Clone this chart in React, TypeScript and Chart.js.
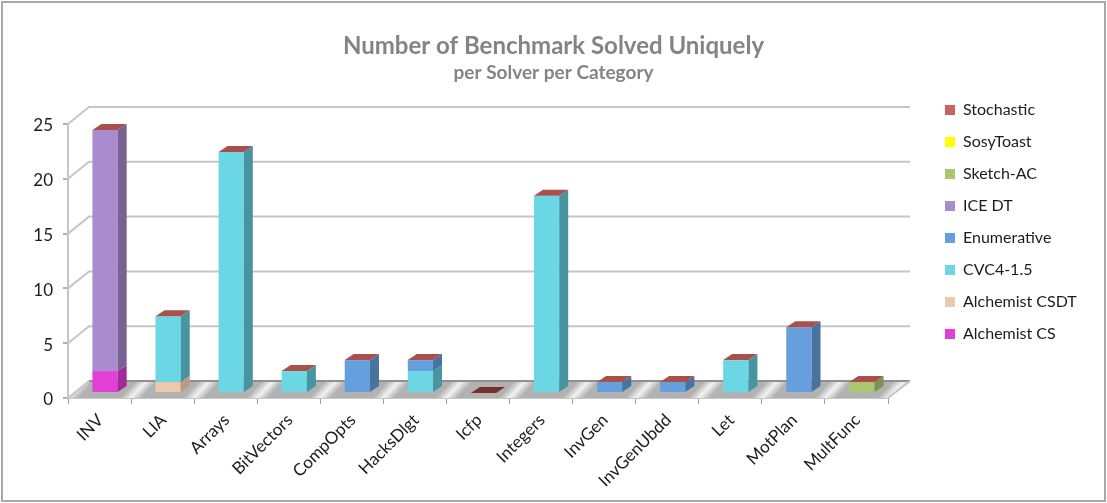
import React, { useEffect, useRef } from "react";
import { Chart, registerables } from "chart.js";

Chart.register(...registerables);

const categories = ["INV", "LIA", "Arrays", "BitVectors", "CompOpts", "HacksDlgt", "Icfp", "Integers", "InvGen", "InvGenUbdd", "Let", "MotPlan", "MultFunc"];
const alchemistCS = [2, 0, 0, 0, 0, 0, 0, 0, 0, 0, 0, 0, 0];
const alchemistCSDT = [0, 1, 0, 0, 0, 0, 0, 0, 0, 0, 0, 0, 0];
const cvc4 = [0, 6, 22, 2, 0, 2, 0, 18, 0, 0, 3, 0, 0];
const enumerative = [0, 0, 0, 0, 3, 1, 0, 0, 1, 1, 0, 6, 0];
const iceDT = [22, 0, 0, 0, 0, 0, 0, 0, 0, 0, 0, 0, 0];
const sketchAC = [0, 0, 0, 0, 0, 0, 0, 0, 0, 0, 0, 0, 1];
const sosyToast = [0, 0, 0, 0, 0, 0, 0, 0, 0, 0, 0, 0, 0];
const stochastic = [0, 0, 0, 0, 0, 0, 0, 0, 0, 0, 0, 0, 0];

const FONT = "Lato, Carlito, sans-serif";
const W = 1107, H = 503;
const PLOT_LEFT = 68, PLOT_RIGHT = 888, PLOT_BOTTOM = 398;
const WALL_DX = 21, WALL_DY = 17;
const BAR_DX = 5.5, BAR_DY = 5, SIDE_DX = 9, SIDE_DY = 6;

const seriesDefs = [
  { label: "Alchemist CS", data: alchemistCS, color: "#e23fd9", side: "#a32a9c" },
  { label: "Alchemist CSDT", data: alchemistCSDT, color: "#ecc9ae", side: "#b99b80" },
  { label: "CVC4-1.5", data: cvc4, color: "#6bd6e4", side: "#4895a1" },
  { label: "Enumerative", data: enumerative, color: "#669fdd", side: "#48739f" },
  { label: "ICE DT", data: iceDT, color: "#a98ccd", side: "#7a6193" },
  { label: "Sketch-AC", data: sketchAC, color: "#aac76f", side: "#7a934f" },
  { label: "SosyToast", data: sosyToast, color: "#ffff00", side: "#b5b500" },
  { label: "Stochastic", data: stochastic, color: "#cc625e", side: "#a9504c" },
];

const scene = {
  id: "scene",
  beforeLayout(chart: any) {
    const l = chart.legend;
    if (l && !l.__patched) {
      const fit = l.fit;
      l.fit = function () { fit.call(this); this.width = W - PLOT_RIGHT; };
      l.__patched = true;
    }
  },
  afterLayout(chart: any) {
    const l = chart.legend;
    if (!l) return;
    l.left = 929; l.right = 1100; l.top = 86; l.bottom = 480;
  },
  beforeDraw(chart: any) {
    const c = chart.ctx;
    c.save();
    c.fillStyle = "#ffffff";
    c.fillRect(0, 0, W, H);
    c.strokeStyle = "#a8a8a8";
    c.lineWidth = 2;
    c.strokeRect(2, 2, 1103, 499);
    c.restore();
  },
  beforeDatasetsDraw(chart: any) {
    const c = chart.ctx;
    const y = chart.scales.y;
    const base = y.getPixelForValue(0);
    c.save();
    const x0 = PLOT_LEFT + 7;
    const g = c.createLinearGradient(x0, 390, x0 + 29.4 * 16, 390 + 29.4 * 15);
    const n = 14;
    for (let k = 0; k < n; k++) {
      g.addColorStop(k / n, "#f2f2f2");
      g.addColorStop((k + 0.17) / n, "#b2b2b2");
      g.addColorStop((k + 0.83) / n, "#b2b2b2");
    }
    g.addColorStop(1, "#f2f2f2");
    c.fillStyle = "#b2b2b2";
    c.beginPath();
    c.moveTo(PLOT_LEFT, base);
    c.lineTo(PLOT_LEFT + WALL_DX, base - WALL_DY + 1);
    c.lineTo(PLOT_RIGHT + WALL_DX + 1, base - WALL_DY + 1);
    c.lineTo(PLOT_RIGHT, base);
    c.closePath();
    c.fill();
    c.fillStyle = g;
    c.fill();
    c.lineWidth = 2;
    y.ticks.forEach((t: any) => {
      const py = y.getPixelForValue(t.value);
      c.strokeStyle = "#c6c6c6";
      c.beginPath();
      c.moveTo(PLOT_LEFT, py);
      c.lineTo(PLOT_LEFT + WALL_DX, py - WALL_DY);
      if (t.value !== 0) c.lineTo(PLOT_RIGHT + WALL_DX + 1, py - WALL_DY);
      c.stroke();
      if (t.value === 0) {
        c.strokeStyle = "#8f8f8f";
        c.beginPath();
        c.moveTo(PLOT_LEFT + WALL_DX, py - WALL_DY);
        c.lineTo(PLOT_RIGHT + WALL_DX + 1, py - WALL_DY);
        c.stroke();
      }
    });
    c.strokeStyle = "#c6c6c6";
    c.beginPath();
    c.moveTo(PLOT_RIGHT, base);
    c.lineTo(PLOT_RIGHT + WALL_DX + 1, base - WALL_DY);
    c.stroke();
    c.restore();
    c.save();
    c.translate(BAR_DX, -BAR_DY);
  },
  afterDatasetsDraw(chart: any) {
    const c = chart.ctx;
    const last = seriesDefs.length - 1;
    categories.forEach((_, i) => {
      let total = 0;
      seriesDefs.forEach((s, d) => {
        total += s.data[i];
        const el = chart.getDatasetMeta(d).data[i];
        const { x, y, base, width } = el.getProps(["x", "y", "base", "width"], true);
        const r = x + width / 2;
        if (s.data[i] > 0) {
          c.fillStyle = s.side;
          c.beginPath();
          c.moveTo(r, y);
          c.lineTo(r + SIDE_DX, y - SIDE_DY);
          c.lineTo(r + SIDE_DX, base - SIDE_DY);
          c.lineTo(r, base);
          c.closePath();
          c.fill();
        }
        if (d === last) {
          const l = x - width / 2;
          c.fillStyle = total === 0 ? "#7a2f2d" : s.side;
          c.beginPath();
          c.moveTo(l, y);
          c.lineTo(l + SIDE_DX, y - SIDE_DY);
          c.lineTo(r + SIDE_DX, y - SIDE_DY);
          c.lineTo(r, y);
          c.closePath();
          c.fill();
        }
      });
    });
    c.restore();
  },
};

export default function App() {
  const ref = useRef<HTMLCanvasElement | null>(null);
  useEffect(() => {
    document.body.style.margin = "0";
    const chart = new Chart(ref.current as HTMLCanvasElement, {
      type: "bar",
      data: {
        labels: categories,
        datasets: seriesDefs.map((s) => ({
          label: s.label,
          data: s.data,
          backgroundColor: s.color,
          borderWidth: 0,
          clip: false,
          barPercentage: 0.4,
          categoryPercentage: 1,
        })) as any,
      },
      options: {
        responsive: false,
        animation: false,
        devicePixelRatio: 1,
        layout: { padding: 0 },
        plugins: {
          tooltip: { enabled: false },
          title: {
            display: true,
            text: "Number of Benchmark Solved Uniquely",
            color: "#848484",
            font: { family: FONT, size: 24, weight: "bold" },
            padding: { top: 32, bottom: 0 },
          },
          subtitle: {
            display: true,
            text: "per Solver per Category",
            color: "#848484",
            font: { family: FONT, size: 19, weight: "bold" },
            padding: { top: 1, bottom: 39.4 },
          },
          legend: {
            position: "right",
            align: "start",
            reverse: true,
            labels: {
              boxWidth: 10,
              boxHeight: 10,
              padding: 16,
              color: "#1c1c1c",
              font: { family: FONT, size: 16 },
            },
          },
        },
        scales: {
          x: {
            stacked: true,
            afterFit: (s: any) => { s.height = H - PLOT_BOTTOM; },
            border: { display: true, color: "#c6c6c6", width: 2 },
            grid: { drawOnChartArea: false, drawTicks: true, tickLength: 6, color: "#9c9c9c", lineWidth: 1 },
            ticks: {
              autoSkip: false,
              maxRotation: 45,
              minRotation: 45,
              padding: 6,
              labelOffset: 1,
              color: "#1c1c1c",
              font: { family: FONT, size: 17 },
            },
          },
          y: {
            stacked: true,
            min: 0,
            max: 25,
            afterFit: (s: any) => { s.width = PLOT_LEFT; },
            border: { display: true, color: "#c6c6c6", width: 2 },
            grid: { drawOnChartArea: false, drawTicks: true, tickLength: 5, color: "#b0b0b0", lineWidth: 2 },
            ticks: {
              stepSize: 5,
              padding: 10,
              labelOffset: 2,
              color: "#1c1c1c",
              font: { family: FONT, size: 17 },
            },
          },
        },
      },
      plugins: [scene],
    } as any);
    return () => chart.destroy();
  }, []);
  return <canvas ref={ref} width={W} height={H} style={{ display: "block" }} />;
}
